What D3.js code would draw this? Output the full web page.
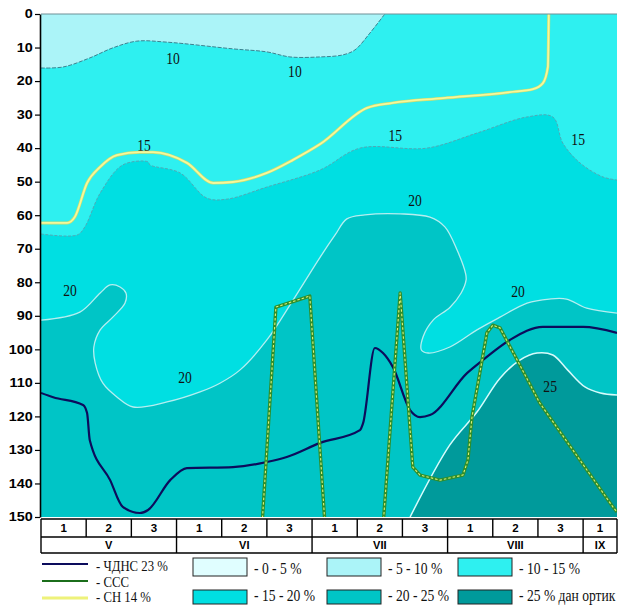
<!DOCTYPE html>
<html><head><meta charset="utf-8">
<script src="https://cdn.jsdelivr.net/npm/d3@7"></script>
<style>body{margin:0;background:#fff}svg{display:block}</style>
</head><body><svg id="c" width="625" height="605"></svg>
<script>
// ---------- DATA ----------
const yTicks = [0,10,20,30,40,50,60,70,80,90,100,110,120,130,140,150];
const decadeLabels = ["1","2","3","1","2","3","1","2","3","1","2","3","1"];
const monthLabels = ["V","VI","VII","VIII","IX"];
const monthStarts = [0,3,6,9,12];
const monthEnds   = [3,6,9,12,12.75];

// isolines: [decade index, depth cm]
const iso10 = [[0,16.1],[0.49,15.8],[1.08,13.1],[1.59,10.1],[2.12,8.1],[2.79,8.4],[4.25,10.4],[5.0,11.3],[5.51,12.8],[6.18,12.8],[6.68,12.2],[6.95,10.7],[7.28,5.7],[7.61,0]];
const iso15 = [[0,65.6],[0.80,65.9],[0.97,63.5],[1.31,53.4],[1.81,45.0],[2.37,44.1],[2.41,45.0],[3.08,47.4],[3.67,54.9],[4.12,55.2],[5.0,51.6],[6.18,46.5],[7.06,40.0],[8.54,40.0],[9.65,35.5],[10.76,30.7],[11.33,30.7],[11.55,38.5],[11.93,44.4],[12.44,48.6],[12.75,49.5]];
const iso20 = [[0,91.3],[0.86,88.9],[1.31,83.2],[1.53,80.8],[1.75,81.4],[1.88,83.2],[1.86,86.2],[1.59,90.4],[1.31,94.2],[1.17,99.3],[1.20,104.1],[1.37,110.1],[1.68,114.2],[2.04,117.2],[2.79,115.7],[3.52,112.7],[3.96,110.1],[4.40,106.2],[5.0,97.2],[5.58,85.3],[6.18,72.5],[6.51,65.9],[6.77,61.1],[7.17,59.9],[7.95,59.6],[8.61,60.6],[8.94,63.5],[9.21,70.4],[9.40,77.5],[9.41,79.3],[9.30,83.2],[9.05,87.5],[8.68,91.3],[8.46,96.2],[8.42,100.2],[8.57,101.1],[9.05,99.3],[9.65,94.2],[10.16,90.4],[10.76,86.2],[11.25,85.0],[11.63,85.0],[12.08,87.7],[12.75,89.2]];
const iso25 = [[8.17,150],[9.05,128.5],[9.65,118.7],[10.16,108.6],[10.60,103.2],[10.98,101.1],[11.33,101.7],[11.66,106.2],[12.04,111.2],[12.38,113.0],[12.75,113.6]];

const lineChdns = [[0,113.0],[0.27,114.3],[0.93,116.6],[1.02,119.0],[1.08,127.1],[1.53,139.0],[1.81,147.0],[2.19,148.8],[2.37,147.9],[2.86,139.0],[3.23,135.4],[4.25,135.1],[5.0,133.6],[5.44,132.1],[6.18,127.9],[7.06,124.1],[7.13,122.0],[7.39,99.6],[7.57,101.1],[7.79,105.3],[8.17,118.1],[8.39,120.2],[8.61,119.6],[9.43,107.1],[9.78,103.2],[10.38,97.2],[11.11,93.3],[12.0,93.3],[12.75,95.1]];
const lineSss = [[4.89,153],[5.20,87.4],[5.95,84.1],[6.29,153],[7.57,153],[7.95,83.2],[8.23,135.1],[8.39,137.5],[8.83,139.0],[9.34,137.5],[9.45,133.0],[9.54,120.2],[9.87,95.1],[10.0,92.8],[10.16,93.6],[10.54,103.2],[11.04,116.0],[12.66,147.0],[12.75,148.5]];
const lineSn = [[0,62.3],[0.58,62.3],[0.75,60.5],[1.02,50.4],[1.31,45.6],[1.68,42.1],[2.19,41.2],[2.48,41.2],[3.23,44.4],[3.81,50.4],[4.25,50.1],[5.0,47.4],[5.58,43.5],[6.18,38.8],[7.22,28.0],[7.79,26.5],[8.90,25.1],[10.38,23.3],[10.89,22.4],[11.11,20.6],[11.22,15.8],[11.24,0]];

const contourLabelText = ["10","10","15","15","15","20","20","20","20","25"];
const contourLabelPos = [[2.92,13.1],[5.62,17.0],[2.28,39.1],[7.84,36.1],[11.89,37.3],[8.28,55.5],[0.64,82.3],[3.19,108.3],[10.56,82.6],[11.27,111.2]];

const lineLegend = ["- ЧДНС 23 %","- ССС","- СН 14 %"];
const bandLegend = ["- 0 - 5 %","- 5 - 10 %","- 10 - 15 %","- 15 - 20 %","- 20 - 25 %","- 25 % дан ортик"];
const bandColors = ["#e0feff","#abf4f8","#2ef0f0","#00dfe2","#00c5c6","#009a9b"];
const lineColors = ["#0c0c5c","#1b6e1b","#eef27a"];

// ---------- DRAW ----------
const svg = d3.select("#c");
const x = d3.scaleLinear().domain([0,12.75]).range([41,617]);
const y = d3.scaleLinear().domain([0,150]).range([14,517]);
const P = d => [x(d[0]), y(d[1])];

svg.append("defs").append("clipPath").attr("id","plot")
  .append("rect").attr("x",x(0)).attr("y",y(0)).attr("width",x(12.75)-x(0)).attr("height",y(150)-y(0));

const g = svg.append("g").attr("clip-path","url(#plot)");
const smooth = d3.line().x(d=>x(d[0])).y(d=>y(d[1])).curve(d3.curveCatmullRom.alpha(0.5));
const mono = d3.line().x(d=>x(d[0])).y(d=>y(d[1])).curve(d3.curveMonotoneX);
const straight = d3.line().x(d=>x(d[0])).y(d=>y(d[1]));
const corner = pts => pts.map(p => "L" + P(p).join(",")).join("") + "Z";

// band fills
g.append("rect").attr("x",x(0)).attr("y",y(0)).attr("width",x(12.75)-x(0)).attr("height",y(150)-y(0)).attr("fill",bandColors[2]);
g.append("path").attr("d", smooth(iso10) + corner([[0,0]])).attr("fill",bandColors[1]);
g.append("path").attr("d", smooth(iso15) + corner([[12.75,150],[0,150]])).attr("fill",bandColors[3]);
g.append("path").attr("d", smooth(iso20) + corner([[12.75,150],[0,150]])).attr("fill",bandColors[4]);
g.append("path").attr("d", smooth(iso25) + corner([[12.75,150]])).attr("fill",bandColors[5]);

// isoline strokes
g.append("path").attr("d", smooth(iso10)).attr("fill","none").attr("stroke","#3b8290").attr("stroke-width",1).attr("stroke-dasharray","4,1.5");
g.append("path").attr("d", smooth(iso15)).attr("fill","none").attr("stroke","#4fa9b6").attr("stroke-width",1).attr("stroke-dasharray","3,1.5");
g.append("path").attr("d", smooth(iso20)).attr("fill","none").attr("stroke","#b5eef0").attr("stroke-width",1.3);
g.append("path").attr("d", smooth(iso25)).attr("fill","none").attr("stroke","#d6fbfb").attr("stroke-width",1.5);

// contour labels
g.selectAll("text.cl").data(contourLabelText).join("text").attr("class","cl")
  .attr("transform",(d,i)=>`translate(${x(contourLabelPos[i][0])},${y(contourLabelPos[i][1])}) scale(0.85,1)`)
  .attr("text-anchor","middle").attr("dy","0.35em")
  .attr("font-family","Liberation Serif, serif").attr("font-size",16).attr("fill","#111")
  .text(d=>d);

// lines
g.append("path").attr("d", mono(lineSn)).attr("fill","none").attr("stroke","#d3dc6c").attr("stroke-width",3);
g.append("path").attr("d", mono(lineSn)).attr("fill","none").attr("stroke","#f3f89c").attr("stroke-width",1.8);
g.append("path").attr("d", mono(lineChdns)).attr("fill","none").attr("stroke",lineColors[0]).attr("stroke-width",2.2);
g.append("path").attr("d", straight(lineSss)).attr("fill","none").attr("stroke","#2f8f2c").attr("stroke-width",3.4).attr("stroke-linejoin","round");
g.append("path").attr("d", straight(lineSss)).attr("fill","none").attr("stroke","#dcef78").attr("stroke-width",1.1).attr("stroke-dasharray","2.5,2").attr("stroke-linejoin","round");

// top frame line
svg.append("line").attr("x1",x(0)).attr("x2",x(12.75)).attr("y1",y(0)).attr("y2",y(0)).attr("stroke","#6f8f96").attr("stroke-width",1);

// y axis
const ax = svg.append("g").attr("transform",`translate(${x(0)-1},0)`)
  .call(d3.axisLeft(y).tickValues(yTicks).tickSize(5).tickSizeOuter(0).tickPadding(1));
ax.select(".domain").attr("stroke","#000").attr("stroke-width",1.6);
ax.selectAll(".tick line").attr("stroke","#000").attr("stroke-width",1.2);
ax.selectAll(".tick text").attr("font-family","Liberation Sans, Arial, sans-serif").attr("font-weight","bold")
  .attr("font-size",12).attr("fill","#000").attr("transform","scale(1.2,1)");

// table of decades / months
const t0 = y(150)+2, t1 = t0+18, t2 = t1+16;
const tb = svg.append("g").attr("stroke","#000").attr("stroke-width",1.4);
[t0,t1,t2].forEach(v => tb.append("line").attr("x1",x(0)).attr("x2",x(12.75)).attr("y1",v).attr("y2",v));
d3.range(0,13).concat([12.75]).forEach(i => tb.append("line").attr("x1",x(i)).attr("x2",x(i)).attr("y1",t0).attr("y2",t1));
monthStarts.concat([12.75]).forEach(i => tb.append("line").attr("x1",x(i)).attr("x2",x(i)).attr("y1",t1).attr("y2",t2));
svg.selectAll("text.dec").data(decadeLabels).join("text").attr("class","dec")
  .attr("x",(d,i)=>(x(i)+x(Math.min(i+1,12.75)))/2).attr("y",(t0+t1)/2).attr("dy","0.36em")
  .attr("text-anchor","middle").attr("font-family","Liberation Sans, Arial, sans-serif").attr("font-weight","bold").attr("font-size",11.5).text(d=>d);
svg.selectAll("text.mon").data(monthLabels).join("text").attr("class","mon")
  .attr("x",(d,i)=>(x(monthStarts[i])+x(monthEnds[i]))/2).attr("y",(t1+t2)/2).attr("dy","0.36em")
  .attr("text-anchor","middle").attr("font-family","Liberation Sans, Arial, sans-serif").attr("font-weight","bold").attr("font-size",11).text(d=>d);

// legend: lines
const lg = svg.append("g");
const lineRowsY = [564, 581, 598];
const lineTextY = [571, 587, 602];
lineLegend.forEach((s,i) => {
  lg.append("line").attr("x1",42).attr("x2",88).attr("y1",lineRowsY[i]).attr("y2",lineRowsY[i])
    .attr("stroke",lineColors[i]).attr("stroke-width",i===2?3:2);
  lg.append("text").attr("transform",`translate(96,${lineTextY[i]}) scale(0.85,1)`)
    .attr("font-family","Liberation Serif, serif").attr("font-size",15).attr("fill","#111").text(s);
});
// legend: bands
const boxX = [193,327,458], boxY = [558,590], textY = [574,601];
bandLegend.forEach((s,i) => {
  const c = i%3, r = Math.floor(i/3);
  lg.append("rect").attr("x",boxX[c]).attr("y",boxY[r]).attr("width",54).attr("height",r===0?18:14)
    .attr("fill",bandColors[i]).attr("stroke","#222").attr("stroke-width",1);
  lg.append("text").attr("transform",`translate(${boxX[c]+61},${textY[r]}) scale(0.85,1)`)
    .attr("font-family","Liberation Serif, serif").attr("font-size",16).attr("fill","#111").text(s);
});
</script>
</body></html>
